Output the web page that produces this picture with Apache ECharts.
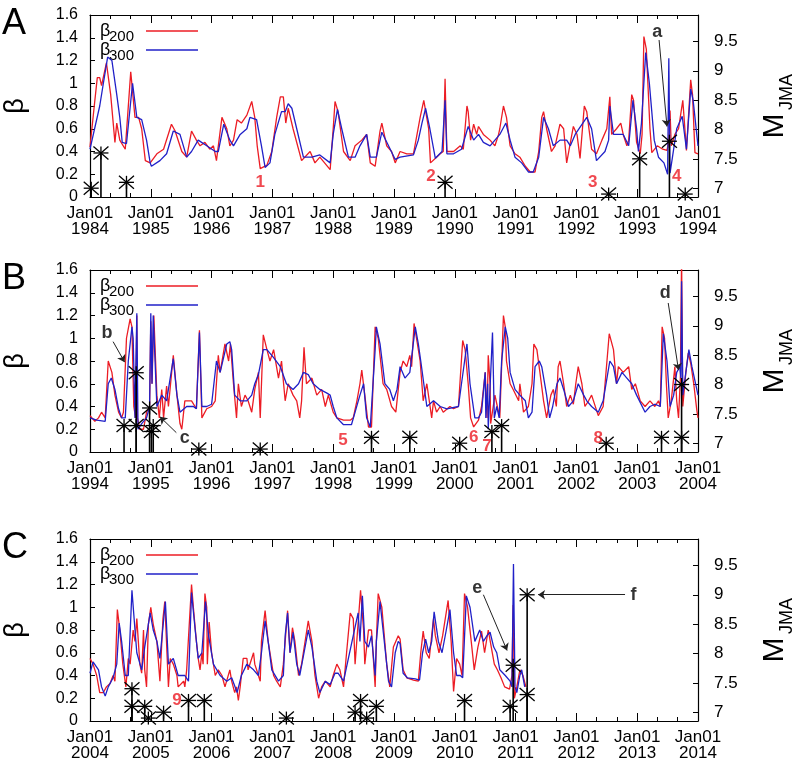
<!DOCTYPE html>
<html>
<head>
<meta charset="utf-8">
<script src="https://cdn.jsdelivr.net/npm/echarts@6/dist/echarts.min.js"></script>
<style>
  html, body { margin: 0; padding: 0; background: #fff; }
  #chart { width: 799px; height: 770px; }
</style>
</head>
<body>
<div id="chart"></div>
<script>
// beta series, [decimal year, beta]
var A200 = [[1984.00,0.44],[1984.07,0.8],[1984.12,1.05],[1984.16,1.05],[1984.19,0.98],[1984.27,1.18],[1984.34,0.9],[1984.41,0.48],[1984.44,0.65],[1984.49,0.5],[1984.58,0.42],[1984.67,1.1],[1984.74,0.7],[1984.80,0.7],[1984.85,0.6],[1984.91,0.32],[1984.99,0.3],[1985.10,0.38],[1985.21,0.42],[1985.34,0.64],[1985.40,0.58],[1985.51,0.4],[1985.59,0.35],[1985.67,0.58],[1985.75,0.5],[1985.81,0.45],[1985.89,0.48],[1985.97,0.42],[1986.03,0.45],[1986.08,0.32],[1986.17,0.7],[1986.25,0.6],[1986.30,0.45],[1986.36,0.5],[1986.42,0.68],[1986.49,0.65],[1986.58,0.72],[1986.66,0.84],[1986.71,0.7],[1986.75,0.45],[1986.80,0.25],[1986.91,0.28],[1986.99,0.4],[1987.07,0.7],[1987.13,0.88],[1987.18,0.88],[1987.22,0.65],[1987.26,0.78],[1987.34,0.6],[1987.48,0.32],[1987.62,0.4],[1987.70,0.3],[1987.78,0.35],[1987.95,0.24],[1988.00,0.6],[1988.03,0.84],[1988.08,0.75],[1988.17,0.4],[1988.28,0.32],[1988.36,0.45],[1988.47,0.5],[1988.55,0.55],[1988.61,0.3],[1988.69,0.27],[1988.77,0.58],[1988.80,0.65],[1988.88,0.45],[1988.96,0.4],[1989.02,0.3],
  [1989.10,0.4],[1989.21,0.38],[1989.32,0.38],[1989.43,0.7],[1989.49,0.85],[1989.57,0.6],[1989.60,0.3],[1989.70,0.35],[1989.76,0.38],[1989.81,0.4],[1989.84,1.04],[1989.87,0.4],[1989.98,0.4],[1990.09,0.45],[1990.14,0.42],[1990.20,0.8],[1990.22,0.75],[1990.26,0.5],[1990.31,0.64],[1990.36,0.55],[1990.39,0.62],[1990.47,0.55],[1990.58,0.5],[1990.66,0.45],[1990.72,0.55],[1990.74,0.6],[1990.80,0.8],[1990.85,0.7],[1990.91,0.45],[1990.99,0.38],[1991.07,0.35],[1991.16,0.27],[1991.24,0.22],[1991.32,0.22],[1991.38,0.4],[1991.43,0.7],[1991.46,0.75],[1991.51,0.6],[1991.59,0.4],[1991.65,0.45],[1991.73,0.64],[1991.79,0.6],[1991.84,0.3],[1991.95,0.62],[1992.01,0.55],[1992.06,0.34],[1992.13,0.8],[1992.17,0.75],[1992.25,0.42],[1992.33,0.38],[1992.42,0.5],[1992.50,0.6],[1992.55,0.88],[1992.58,0.55],[1992.66,0.6],[1992.73,0.65],[1992.77,0.55],[1992.83,0.45],[1992.86,0.5],[1992.91,0.9],[1992.94,0.85],[1992.99,0.48],[1993.05,0.38],[1993.08,0.55],[1993.11,1.41],[1993.15,1.3],[1993.21,0.6],[1993.24,0.39],[1993.33,0.45],[1993.42,0.42],[1993.49,0.41],[1993.52,0.5],[1993.54,0.76],[1993.56,0.45],[1993.62,0.55],[1993.68,0.6],[1993.75,0.85],[1993.81,0.41],[1993.88,1.03],[1993.91,0.9],[1993.95,0.39],[1994.00,0.38]];
var A300 = [[1984.00,0.42],[1984.16,0.8],[1984.22,1.0],[1984.29,1.23],[1984.36,1.2],[1984.44,0.9],[1984.49,0.7],[1984.53,0.48],[1984.60,0.47],[1984.70,1.0],[1984.77,0.7],[1984.85,0.68],[1984.93,0.5],[1984.99,0.3],[1985.01,0.27],[1985.15,0.32],[1985.26,0.38],[1985.37,0.58],[1985.48,0.55],[1985.59,0.35],[1985.67,0.4],[1985.78,0.5],[1985.92,0.45],[1986.06,0.4],[1986.11,0.4],[1986.20,0.64],[1986.30,0.5],[1986.36,0.45],[1986.47,0.55],[1986.58,0.6],[1986.63,0.7],[1986.74,0.68],[1986.82,0.45],[1986.88,0.26],[1986.96,0.3],[1987.04,0.55],[1987.15,0.75],[1987.21,0.75],[1987.26,0.82],[1987.32,0.78],[1987.40,0.6],[1987.51,0.35],[1987.65,0.35],[1987.78,0.37],[1987.95,0.3],[1988.00,0.55],[1988.07,0.77],[1988.14,0.6],[1988.25,0.35],[1988.36,0.35],[1988.44,0.45],[1988.55,0.55],[1988.61,0.35],[1988.71,0.35],[1988.80,0.57],[1988.91,0.45],[1989.02,0.33],
  [1989.10,0.35],[1989.32,0.37],[1989.40,0.5],[1989.46,0.65],[1989.52,0.78],[1989.59,0.6],[1989.68,0.34],[1989.79,0.4],[1989.84,0.85],[1989.87,0.38],[1989.98,0.38],[1990.11,0.42],[1990.22,0.62],[1990.31,0.5],[1990.39,0.55],[1990.47,0.48],[1990.58,0.45],[1990.66,0.5],[1990.74,0.55],[1990.84,0.65],[1990.91,0.5],[1990.99,0.35],[1991.10,0.3],[1991.21,0.22],[1991.29,0.22],[1991.38,0.35],[1991.46,0.7],[1991.54,0.6],[1991.62,0.45],[1991.73,0.5],[1991.84,0.5],[1991.90,0.45],[1991.98,0.55],[1992.17,0.7],[1992.25,0.6],[1992.33,0.32],[1992.47,0.4],[1992.53,0.5],[1992.55,0.8],[1992.61,0.55],[1992.77,0.55],[1992.86,0.45],[1992.93,0.85],[1992.99,0.6],[1993.02,0.4],[1993.07,0.65],[1993.14,1.27],[1993.20,1.0],[1993.28,0.5],[1993.35,0.35],[1993.44,0.3],[1993.50,0.2],[1993.52,1.22],[1993.54,0.21],[1993.58,0.35],[1993.65,0.6],[1993.74,0.71],[1993.81,0.42],[1993.88,0.95],[1993.92,0.85],[1994.00,0.45]];

var B200 = [[1994.00,0.32],[1994.08,0.27],[1994.14,0.3],[1994.19,0.35],[1994.25,0.3],[1994.30,0.8],[1994.36,0.7],[1994.41,0.5],[1994.47,0.35],[1994.52,0.3],[1994.55,0.35],[1994.60,1.0],[1994.66,1.17],[1994.69,1.1],[1994.72,0.4],[1994.75,0.3],[1994.77,1.2],[1994.78,0.3],[1994.82,0.2],[1994.88,0.2],[1994.93,0.35],[1994.98,0.4],[1995.00,1.15],[1995.02,0.6],[1995.05,1.2],[1995.10,0.5],[1995.14,0.3],[1995.18,0.55],[1995.21,0.3],[1995.26,0.58],[1995.29,0.4],[1995.37,0.85],[1995.43,0.5],[1995.48,0.25],[1995.51,0.2],[1995.56,0.45],[1995.67,0.45],[1995.75,0.38],[1995.80,1.07],[1995.84,0.3],[1995.92,0.38],[1996.00,0.4],[1996.06,0.45],[1996.11,0.85],[1996.14,0.7],[1996.22,0.95],[1996.28,0.8],[1996.31,0.95],[1996.36,0.6],[1996.41,0.3],[1996.44,0.6],[1996.49,0.4],[1996.55,0.5],[1996.60,0.45],[1996.66,0.35],[1996.71,0.55],[1996.77,0.7],[1996.80,0.3],[1996.85,1.03],[1996.91,0.9],[1996.96,0.8],[1997.02,0.9],[1997.10,0.65],[1997.15,0.8],[1997.21,0.45],[1997.26,0.6],[1997.34,0.5],[1997.40,0.45],[1997.45,0.3],[1997.48,0.45],[1997.52,0.92],[1997.56,0.6],[1997.65,0.65],[1997.73,0.5],[1997.81,0.55],[1997.87,0.4],[1997.92,0.5],[1998.00,0.35],[1998.06,0.3],[1998.17,0.28],[1998.28,0.28],[1998.33,0.3],[1998.39,0.45],[1998.44,0.6],[1998.47,0.72],[1998.52,0.5],[1998.58,0.22],[1998.63,0.22],[1998.69,1.1],[1998.74,1.0],[1998.82,0.6],[1998.88,0.55],[1998.96,0.4],[1999.03,0.35],[1999.07,0.55],
  [1999.10,0.7],[1999.15,0.8],[1999.21,0.75],[1999.26,0.85],[1999.29,0.75],[1999.33,1.13],[1999.37,1.0],[1999.43,0.8],[1999.48,0.45],[1999.54,0.6],[1999.62,0.3],[1999.65,0.45],[1999.70,0.35],[1999.76,0.4],[1999.81,0.35],[1999.92,0.4],[1999.98,0.38],[2000.06,0.4],[2000.13,0.98],[2000.17,0.9],[2000.22,0.6],[2000.26,0.3],[2000.31,0.22],[2000.39,0.28],[2000.44,0.4],[2000.50,0.7],[2000.53,0.3],[2000.55,0.85],[2000.58,0.6],[2000.59,0.25],[2000.66,0.5],[2000.70,0.4],[2000.74,0.3],[2000.80,1.2],[2000.83,1.1],[2000.85,0.8],[2000.91,0.6],[2000.96,0.55],[2001.05,0.45],[2001.07,0.6],[2001.13,0.35],[2001.21,0.4],[2001.27,0.6],[2001.30,0.95],[2001.35,0.9],[2001.40,0.7],[2001.46,0.45],[2001.51,0.3],[2001.58,0.5],[2001.62,0.55],[2001.67,0.4],[2001.70,0.75],[2001.73,0.8],[2001.79,0.6],[2001.84,0.4],[2001.90,0.5],[2001.95,0.42],[2001.99,0.6],[2002.03,0.75],[2002.09,0.6],[2002.14,0.4],[2002.20,0.45],[2002.25,0.5],[2002.36,0.32],[2002.44,0.4],[2002.54,1.04],[2002.61,0.9],[2002.66,0.6],[2002.69,0.75],[2002.77,0.7],[2002.86,0.75],[2002.91,0.55],[2002.97,0.6],[2003.05,0.45],[2003.13,0.4],[2003.21,0.45],[2003.29,0.4],[2003.35,0.45],[2003.38,0.4],[2003.41,1.1],[2003.45,1.0],[2003.48,0.6],[2003.51,0.3],[2003.56,0.45],[2003.62,0.75],[2003.65,0.45],[2003.68,0.3],[2003.71,0.65],[2003.73,1.7],[2003.75,0.4],[2003.80,0.7],[2003.84,0.87],[2003.88,0.78],[2003.93,0.6],[2003.98,0.37],[2004.00,0.3]];
var B300 = [[1994.00,0.3],[1994.11,0.28],[1994.25,0.27],[1994.30,0.6],[1994.35,0.65],[1994.41,0.55],[1994.47,0.38],[1994.52,0.3],[1994.58,0.3],[1994.63,0.8],[1994.69,1.1],[1994.71,1.0],[1994.74,0.3],[1994.77,1.22],[1994.79,0.2],[1994.85,0.25],[1994.93,0.3],[1994.98,0.4],[1995.00,1.22],[1995.02,0.6],[1995.04,1.2],[1995.10,0.4],[1995.18,0.5],[1995.26,0.45],[1995.37,0.82],[1995.43,0.5],[1995.48,0.35],[1995.59,0.4],[1995.70,0.4],[1995.75,0.38],[1995.80,1.05],[1995.84,0.4],[1995.92,0.4],[1996.00,0.42],[1996.08,0.8],[1996.14,0.7],[1996.25,0.95],[1996.30,0.97],[1996.33,0.9],[1996.38,0.5],[1996.47,0.45],[1996.58,0.45],[1996.66,0.5],[1996.71,0.6],[1996.77,0.68],[1996.85,0.9],[1996.91,0.9],[1997.02,0.83],[1997.13,0.75],[1997.23,0.6],[1997.34,0.55],[1997.43,0.6],[1997.51,0.7],[1997.59,0.68],[1997.67,0.6],[1997.78,0.55],[1997.89,0.52],[1997.95,0.5],[1998.00,0.4],[1998.06,0.3],[1998.17,0.24],[1998.30,0.24],[1998.36,0.35],[1998.44,0.5],[1998.50,0.6],[1998.55,0.3],[1998.61,0.22],[1998.69,0.9],[1998.71,1.1],[1998.77,0.95],[1998.85,0.6],[1998.93,0.55],[1998.99,0.45],[1999.05,0.55],
  [1999.10,0.75],[1999.18,0.65],[1999.26,0.7],[1999.35,1.1],[1999.40,0.95],[1999.44,0.8],[1999.54,0.4],[1999.65,0.45],[1999.76,0.4],[1999.87,0.38],[2000.06,0.4],[2000.11,0.6],[2000.20,0.95],[2000.25,0.6],[2000.33,0.3],[2000.39,0.3],[2000.44,0.35],[2000.50,0.7],[2000.51,0.3],[2000.54,0.6],[2000.55,0.2],[2000.62,1.05],[2000.65,0.3],[2000.69,0.4],[2000.73,0.3],[2000.77,0.8],[2000.83,1.1],[2000.87,1.0],[2000.91,0.7],[2000.99,0.55],[2001.07,0.5],[2001.16,0.45],[2001.21,0.3],[2001.27,0.35],[2001.32,0.75],[2001.39,0.8],[2001.43,0.75],[2001.51,0.5],[2001.56,0.3],[2001.61,0.4],[2001.68,0.6],[2001.73,0.65],[2001.79,0.55],[2001.87,0.4],[2001.95,0.45],[2002.03,0.6],[2002.12,0.5],[2002.17,0.45],[2002.25,0.4],[2002.36,0.35],[2002.44,0.45],[2002.55,0.8],[2002.61,0.75],[2002.66,0.6],[2002.75,0.7],[2002.83,0.65],[2002.91,0.6],[2002.99,0.5],[2003.13,0.35],[2003.21,0.4],[2003.29,0.42],[2003.38,0.4],[2003.43,1.04],[2003.49,0.8],[2003.54,0.4],[2003.60,0.5],[2003.65,0.7],[2003.70,0.75],[2003.72,0.65],[2003.73,1.5],[2003.75,0.5],[2003.80,0.7],[2003.85,0.9],[2003.90,0.75],[2004.00,0.5]];

var C200 = [[2004.00,0.55],[2004.05,0.5],[2004.11,0.4],[2004.16,0.25],[2004.22,0.25],[2004.27,0.3],[2004.33,0.33],[2004.38,0.4],[2004.41,0.35],[2004.45,0.98],[2004.49,0.8],[2004.54,0.5],[2004.59,0.3],[2004.63,0.55],[2004.66,0.5],[2004.71,0.8],[2004.74,0.7],[2004.77,0.9],[2004.82,0.5],[2004.85,0.42],[2004.88,0.8],[2004.90,0.45],[2004.93,0.3],[2004.96,0.85],[2005.00,1.0],[2005.04,0.85],[2005.10,0.7],[2005.15,0.35],[2005.20,0.9],[2005.23,1.05],[2005.29,0.3],[2005.32,0.55],[2005.37,0.5],[2005.43,0.4],[2005.45,0.3],[2005.54,0.35],[2005.56,0.3],[2005.59,0.45],[2005.67,1.2],[2005.70,1.0],[2005.75,0.7],[2005.78,0.55],[2005.81,0.45],[2005.84,0.6],[2005.86,0.5],[2005.89,1.12],[2005.92,1.0],[2005.93,0.5],[2005.96,0.87],[2006.00,0.6],[2006.06,0.4],[2006.11,0.45],[2006.17,0.4],[2006.22,0.3],[2006.30,0.45],[2006.33,0.35],[2006.38,0.25],[2006.41,0.3],[2006.44,0.18],[2006.47,0.3],[2006.52,0.55],[2006.58,0.55],[2006.60,0.45],[2006.66,0.55],[2006.69,0.6],[2006.71,0.5],[2006.74,0.45],[2006.77,0.4],[2006.80,0.35],[2006.82,0.7],[2006.88,0.97],[2006.93,0.7],[2006.99,0.5],[2007.02,0.4],[2007.07,0.35],[2007.13,0.3],[2007.18,0.5],[2007.21,0.7],[2007.25,0.97],[2007.29,0.6],[2007.33,0.82],[2007.37,0.7],[2007.43,0.4],[2007.48,0.5],[2007.59,0.88],[2007.65,0.7],[2007.70,0.4],[2007.76,0.2],[2007.81,0.3],[2007.87,0.35],[2007.95,0.3],[2008.00,0.4],[2008.06,0.5],[2008.11,0.45],[2008.17,0.3],[2008.22,0.6],[2008.28,0.95],[2008.33,0.9],[2008.36,0.5],[2008.45,1.15],[2008.50,0.8],[2008.52,0.5],[2008.58,0.8],[2008.63,0.8],[2008.69,0.3],[2008.71,0.7],[2008.74,1.12],[2008.80,1.0],[2008.88,0.5],[2008.93,0.3],[2008.99,0.65],[2009.07,0.75],
  [2009.10,0.72],[2009.15,0.45],[2009.21,0.38],[2009.32,0.36],[2009.40,0.35],[2009.44,0.6],[2009.48,0.79],[2009.53,0.6],[2009.58,0.55],[2009.65,0.9],[2009.68,0.75],[2009.74,0.6],[2009.80,0.75],[2009.89,1.06],[2009.94,0.7],[2009.98,0.26],[2010.03,0.55],[2010.08,0.5],[2010.12,0.4],[2010.16,1.12],[2010.21,1.0],[2010.26,0.75],[2010.32,0.45],[2010.38,0.65],[2010.44,0.79],[2010.49,0.6],[2010.55,0.8],[2010.60,0.65],[2010.65,0.5],[2010.70,0.45],[2010.76,0.38],[2010.82,0.3],[2010.90,0.28],[2010.94,0.4],[2010.96,1.02],[2010.98,0.2],[2011.02,0.3],[2011.07,0.45],[2011.12,0.4],[2011.17,0.3]];
var C300 = [[2004.00,0.42],[2004.05,0.52],[2004.14,0.45],[2004.19,0.3],[2004.25,0.22],[2004.30,0.3],[2004.38,0.38],[2004.44,0.5],[2004.48,0.86],[2004.52,0.7],[2004.58,0.4],[2004.63,0.4],[2004.69,1.15],[2004.74,0.8],[2004.77,0.6],[2004.85,0.45],[2004.90,0.65],[2004.99,0.95],[2005.04,0.8],[2005.10,0.7],[2005.15,0.55],[2005.24,1.05],[2005.29,0.5],[2005.37,0.55],[2005.45,0.4],[2005.56,0.4],[2005.62,0.35],[2005.67,1.13],[2005.73,0.8],[2005.78,0.55],[2005.84,0.6],[2005.90,1.05],[2005.95,0.75],[2006.03,0.5],[2006.14,0.4],[2006.25,0.35],[2006.33,0.38],[2006.42,0.25],[2006.49,0.4],[2006.58,0.5],[2006.69,0.45],[2006.77,0.4],[2006.82,0.6],[2006.88,0.88],[2006.93,0.7],[2006.99,0.45],[2007.10,0.35],[2007.18,0.4],[2007.21,0.75],[2007.25,0.95],[2007.29,0.6],[2007.34,0.78],[2007.40,0.5],[2007.45,0.4],[2007.59,0.8],[2007.65,0.65],[2007.73,0.35],[2007.78,0.25],[2007.87,0.35],[2007.95,0.32],[2008.03,0.42],[2008.08,0.42],[2008.17,0.35],[2008.25,0.55],[2008.33,0.75],[2008.41,0.95],[2008.44,0.7],[2008.48,1.1],[2008.52,0.7],[2008.58,0.65],[2008.63,0.75],[2008.69,0.4],[2008.71,0.7],[2008.77,1.05],[2008.82,0.8],[2008.91,0.35],[2008.96,0.3],[2009.02,0.6],[2009.07,0.7],
  [2009.10,0.68],[2009.15,0.42],[2009.22,0.38],[2009.35,0.37],[2009.42,0.36],[2009.47,0.6],[2009.52,0.72],[2009.57,0.6],[2009.62,0.7],[2009.66,0.96],[2009.73,0.7],[2009.79,0.6],[2009.86,0.8],[2009.92,0.98],[2009.98,0.6],[2010.03,0.4],[2010.09,0.4],[2010.13,0.38],[2010.19,1.1],[2010.25,1.0],[2010.33,0.7],[2010.41,0.8],[2010.47,0.7],[2010.53,0.75],[2010.58,0.78],[2010.64,0.65],[2010.69,0.6],[2010.74,0.45],[2010.83,0.4],[2010.91,0.35],[2010.94,0.3],[2010.965,1.38],[2010.99,0.3],[2011.02,0.25],[2011.07,0.4],[2011.10,0.45],[2011.15,0.3]];

// earthquakes, [decimal year, M_JMA]
var quakesA = [[1984.02,7.0],[1984.18,7.6],[1984.60,7.1],[1989.84,7.1],[1992.53,6.9],[1993.04,7.5],[1993.53,7.8],[1993.79,6.9]];
var quakesB = [[1994.56,7.3],[1994.76,7.3],[1994.76,8.2],[1994.98,7.6],[1995.01,7.2],[1995.04,7.3],[1995.79,6.9],[1996.80,6.9],[1998.63,7.1],[1999.26,7.1],[2000.08,7.0],[2000.61,7.2],[2000.77,7.3],[2002.49,7.0],[2003.40,7.1],[2003.73,7.1],[2003.73,8.0]];
var quakesC = [[2004.69,7.4],[2004.69,7.1],[2004.90,7.1],[2004.96,6.9],[2005.21,7.0],[2005.62,7.2],[2005.88,7.2],[2007.23,6.9],[2008.36,7.0],[2008.45,7.2],[2008.55,6.9],[2008.71,7.1],[2010.16,7.2],[2010.91,7.1],[2010.96,7.8],[2011.19,9.0],[2011.19,7.3]];

// annotations [year, beta, text]
var numsA = [[1986.80,0.13,'1'],[1989.61,0.18,'2'],[1992.27,0.13,'3'],[1993.65,0.18,'4']];
var numsB = [[1998.16,0.10,'5'],[2000.31,0.13,'6'],[2000.53,0.05,'7'],[2002.36,0.12,'8']];
var numsC = [[2005.43,0.18,'9']];
var lettersA = [[1993.33,1.45,'a']];
var lettersB = [[1994.28,1.05,'b'],[1995.56,0.12,'c'],[2003.46,1.40,'d']];
var lettersC = [[2010.37,1.17,'e'],[2012.94,1.11,'f']];
// arrows [year1, beta1, year2, beta2]
var arrowsA = [[1993.36,1.38,1993.49,0.62]];
var arrowsB = [[1994.38,0.97,1994.57,0.79],[1995.42,0.17,1995.15,0.31],[2003.51,1.31,2003.68,0.72]];
var arrowsC = [[2010.47,1.11,2010.86,0.62],[2012.80,1.11,2011.37,1.11]];

var betaTicks = 0.2;
var mTicks = [7, 7.5, 8, 8.5, 9, 9.5];
var M_MIN = 6.85, M_MAX = 9.95;

var RED = '#ec1c24', BLUE = '#2020c8';
var FONT = 'Liberation Sans, Arial, sans-serif';

var panels = [
  {start: 1984, letter: 'A', red: A200, blue: A300, quakes: quakesA, nums: numsA, letters: lettersA, arrows: arrowsA},
  {start: 1994, letter: 'B', red: B200, blue: B300, quakes: quakesB, nums: numsB, letters: lettersB, arrows: arrowsB},
  {start: 2004, letter: 'C', red: C200, blue: C300, quakes: quakesC, nums: numsC, letters: lettersC, arrows: arrowsC}
];
var tops = [15, 270, 539];

var chart = echarts.init(document.getElementById('chart'));

// asterisk with impulse down to axis bottom
function starItem(params, api) {
  var t = api.value(0);
  var p = api.coord([t, api.value(1)]);
  var b = api.coord([t, M_MIN]);
  var w = 7.5, h = 6.5;
  var st = {stroke: '#000', lineWidth: 1.3};
  return {
    type: 'group',
    children: [
      {type: 'line', shape: {x1: p[0], y1: b[1], x2: p[0], y2: p[1]}, style: {stroke: '#000', lineWidth: 1.6}},
      {type: 'line', shape: {x1: p[0] - w, y1: p[1], x2: p[0] + w, y2: p[1]}, style: st},
      {type: 'line', shape: {x1: p[0], y1: p[1] - h, x2: p[0], y2: p[1] + h}, style: st},
      {type: 'line', shape: {x1: p[0] - w, y1: p[1] - h, x2: p[0] + w, y2: p[1] + h}, style: st},
      {type: 'line', shape: {x1: p[0] - w, y1: p[1] + h, x2: p[0] + w, y2: p[1] - h}, style: st}
    ]
  };
}

var grids = [], xAxes = [], yAxes = [], series = [], graphics = [];
var axisLine = {show: true, lineStyle: {color: '#000', width: 1.2}};

panels.forEach(function (p, i) {
  var top = tops[i];
  grids.push({left: 90, width: 608, top: top, height: 182, containLabel: false, outerBoundsMode: 'none'});

  var xBase = {
    gridIndex: i, type: 'value', min: p.start, max: p.start + 10, interval: 1,
    axisLine: axisLine,
    axisTick: {show: true, inside: true, length: 8, lineStyle: {color: '#000'}},
    minorTick: {show: true, splitNumber: 3, length: 4, lineStyle: {color: '#000'}},
    splitLine: {show: false}
  };
  xAxes.push(Object.assign({}, xBase, {
    position: 'bottom',
    axisLabel: {
      formatter: function (v) { return 'Jan01\n' + v; },
      fontSize: 17, lineHeight: 16, color: '#000', fontFamily: FONT, margin: 8
    }
  }));
  xAxes.push(Object.assign({}, xBase, {position: 'top', axisLabel: {show: false}}));

  yAxes.push({
    gridIndex: i, type: 'value', position: 'left', min: 0, max: 1.6, interval: betaTicks,
    axisLine: axisLine,
    axisTick: {show: true, inside: true, length: 5, lineStyle: {color: '#000'}},
    axisLabel: {fontSize: 16, color: '#000', fontFamily: FONT, margin: 12},
    splitLine: {show: false},
    name: 'β', nameLocation: 'middle', nameGap: 61, nameRotate: 90,
    nameTextStyle: {fontSize: 27, color: '#000', fontFamily: FONT}
  });
  yAxes.push({
    gridIndex: i, type: 'value', position: 'right', min: M_MIN, max: M_MAX,
    axisLine: axisLine,
    axisTick: {show: true, inside: true, length: 5, customValues: mTicks, lineStyle: {color: '#000'}},
    axisLabel: {customValues: mTicks, fontSize: 17, color: '#000', fontFamily: FONT, margin: 16},
    splitLine: {show: false}
  });

  series.push({
    type: 'line', name: 'β200', xAxisIndex: 2 * i, yAxisIndex: 2 * i, data: p.red,
    showSymbol: false, symbol: 'none', lineStyle: {color: RED, width: 1.3}, itemStyle: {color: RED}, z: 2
  });
  series.push({
    type: 'line', name: 'β300', xAxisIndex: 2 * i, yAxisIndex: 2 * i, data: p.blue,
    showSymbol: false, symbol: 'none', lineStyle: {color: BLUE, width: 1.3}, itemStyle: {color: BLUE}, z: 3
  });
  series.push({
    type: 'custom', xAxisIndex: 2 * i, yAxisIndex: 2 * i + 1, data: p.quakes,
    encode: {x: 0, y: 1}, renderItem: starItem, clip: false, z: 4
  });
  series.push({
    type: 'scatter', xAxisIndex: 2 * i, yAxisIndex: 2 * i,
    data: p.nums.map(function (d) { return {name: d[2], value: [d[0], d[1]]}; }),
    symbolSize: 1, itemStyle: {color: 'transparent'}, z: 5,
    label: {show: true, position: 'inside', formatter: function (q) { return q.name; },
      color: RED, fontWeight: 'bold', fontSize: 17, fontFamily: FONT}
  });
  series.push({
    type: 'scatter', xAxisIndex: 2 * i, yAxisIndex: 2 * i,
    data: p.letters.map(function (d) { return {name: d[2], value: [d[0], d[1]]}; }),
    symbolSize: 1, itemStyle: {color: 'transparent'}, z: 5,
    label: {show: true, position: 'inside', formatter: function (q) { return q.name; },
      color: '#000', fontWeight: 'bold', fontSize: 18, fontFamily: FONT},
    markLine: {
      silent: true, symbol: ['none', 'arrow'], symbolSize: 7,
      lineStyle: {color: '#222', width: 1, type: 'solid'}, label: {show: false},
      data: p.arrows.map(function (a) { return [{coord: [a[0], a[1]]}, {coord: [a[2], a[3]]}]; })
    }
  });

  // panel letter
  graphics.push({type: 'text', left: 2, top: top - 9,
    style: {text: p.letter, fontSize: 36, fill: '#000', fontFamily: FONT}});
  // right axis title M_JMA
  graphics.push({type: 'text', x: 775, y: top + 111, rotation: Math.PI / 2,
    style: {text: 'M', fontSize: 30, fill: '#000', fontFamily: FONT, align: 'center', verticalAlign: 'middle'}});
  graphics.push({type: 'text', x: 787, y: top + 77, rotation: Math.PI / 2,
    style: {text: 'JMA', fontSize: 18, fill: '#000', fontFamily: FONT, align: 'center', verticalAlign: 'middle'}});
  // legend
  [['200', RED, 16], ['300', BLUE, 35]].forEach(function (it) {
    graphics.push({type: 'text', x: 100, y: top + it[2],
      style: {text: 'β', fontSize: 18, fill: '#000', fontFamily: FONT, verticalAlign: 'middle'}});
    graphics.push({type: 'text', x: 109, y: top + it[2] + 6,
      style: {text: it[0], fontSize: 15, fill: '#000', fontFamily: FONT, verticalAlign: 'middle'}});
    graphics.push({type: 'line', shape: {x1: 146, y1: top + it[2], x2: 198, y2: top + it[2]},
      style: {stroke: it[1], lineWidth: 1.3}});
  });
});

chart.setOption({
  backgroundColor: '#fff',
  animation: false,
  textStyle: {fontFamily: FONT},
  grid: grids,
  xAxis: xAxes,
  yAxis: yAxes,
  series: series,
  graphic: graphics
});
</script>
</body>
</html>
